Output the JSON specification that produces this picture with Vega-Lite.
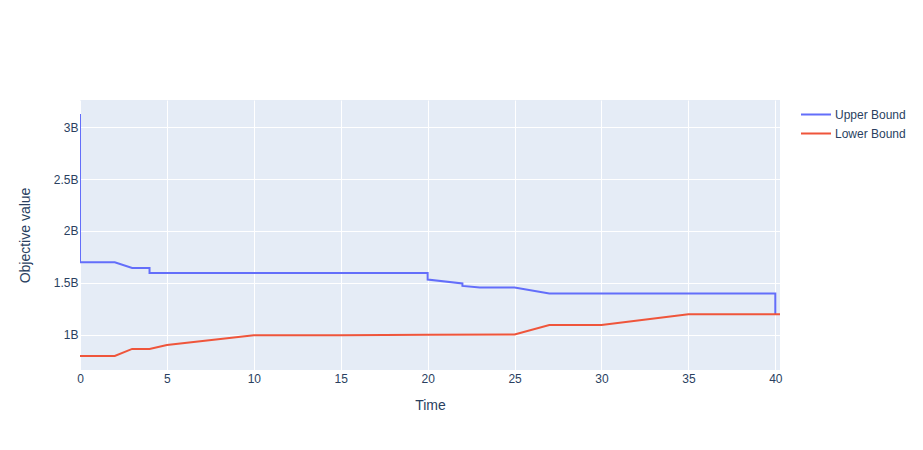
{
  "$schema": "https://vega.github.io/schema/vega-lite/v6.json",
  "autosize": "none",
  "width": 700,
  "height": 270,
  "padding": {"left": 80, "top": 100, "right": 143, "bottom": 80},
  "background": "white",
  "config": {
    "font": "Liberation Sans",
    "view": {"fill": "#E5ECF6", "stroke": null},
    "axis": {
      "domain": false,
      "ticks": false,
      "gridColor": "white",
      "gridWidth": 1,
      "labelFont": "Liberation Sans",
      "labelFontSize": 12,
      "labelColor": "#2a3f5f",
      "titleFont": "Liberation Sans",
      "titleFontSize": 14,
      "titleFontWeight": "normal",
      "titleColor": "#2a3f5f"
    },
    "legend": {
      "labelFont": "Liberation Sans",
      "labelFontSize": 12,
      "labelColor": "#2a3f5f"
    }
  },
  "data": {
    "values": [
      {"series": "Upper Bound", "i": 0, "time": 0, "value": 3125000000},
      {"series": "Upper Bound", "i": 1, "time": 0, "value": 1700000000},
      {"series": "Upper Bound", "i": 2, "time": 2, "value": 1700000000},
      {"series": "Upper Bound", "i": 3, "time": 3, "value": 1645000000},
      {"series": "Upper Bound", "i": 4, "time": 4, "value": 1645000000},
      {"series": "Upper Bound", "i": 5, "time": 4, "value": 1597000000},
      {"series": "Upper Bound", "i": 6, "time": 20, "value": 1597000000},
      {"series": "Upper Bound", "i": 7, "time": 20, "value": 1533000000},
      {"series": "Upper Bound", "i": 8, "time": 22, "value": 1495000000},
      {"series": "Upper Bound", "i": 9, "time": 22, "value": 1472000000},
      {"series": "Upper Bound", "i": 10, "time": 23, "value": 1457000000},
      {"series": "Upper Bound", "i": 11, "time": 25, "value": 1457000000},
      {"series": "Upper Bound", "i": 12, "time": 27, "value": 1398000000},
      {"series": "Upper Bound", "i": 13, "time": 40, "value": 1398000000},
      {"series": "Upper Bound", "i": 14, "time": 40, "value": 1200000000},
      {"series": "Lower Bound", "i": 0, "time": 0, "value": 798000000},
      {"series": "Lower Bound", "i": 1, "time": 2, "value": 798000000},
      {"series": "Lower Bound", "i": 2, "time": 3, "value": 866000000},
      {"series": "Lower Bound", "i": 3, "time": 4, "value": 866000000},
      {"series": "Lower Bound", "i": 4, "time": 5, "value": 903000000},
      {"series": "Lower Bound", "i": 5, "time": 10, "value": 998000000},
      {"series": "Lower Bound", "i": 6, "time": 15, "value": 998000000},
      {"series": "Lower Bound", "i": 7, "time": 20, "value": 1002000000},
      {"series": "Lower Bound", "i": 8, "time": 25, "value": 1004000000},
      {"series": "Lower Bound", "i": 9, "time": 27, "value": 1095000000},
      {"series": "Lower Bound", "i": 10, "time": 30, "value": 1095000000},
      {"series": "Lower Bound", "i": 11, "time": 35, "value": 1199000000},
      {"series": "Lower Bound", "i": 12, "time": 40.27, "value": 1199000000}
    ]
  },
  "mark": {"type": "line", "strokeWidth": 2, "clip": true},
  "encoding": {
    "x": {
      "field": "time",
      "type": "quantitative",
      "scale": {"domain": [0, 40.27], "nice": false, "zero": false},
      "axis": {
        "title": "Time",
        "values": [0, 5, 10, 15, 20, 25, 30, 35, 40],
        "labelFlush": false,
        "labelBound": false,
        "labelOverlap": false,
        "labelPadding": 3,
        "titleX": 350,
        "titleY": 35,
        "titleBaseline": "middle",
        "titleAlign": "center"
      }
    },
    "y": {
      "field": "value",
      "type": "quantitative",
      "scale": {"domain": [663000000, 3260000000], "nice": false, "zero": false},
      "axis": {
        "title": "Objective value",
        "values": [1000000000, 1500000000, 2000000000, 2500000000, 3000000000],
        "labelExpr": "datum.value / 1e9 + 'B'",
        "labelFlush": false,
        "labelOverlap": false,
        "labelPadding": 2,
        "titleX": -55,
        "titleY": 135,
        "titleAngle": -90,
        "titleBaseline": "middle",
        "titleAlign": "center"
      }
    },
    "color": {
      "field": "series",
      "type": "nominal",
      "scale": {"domain": ["Upper Bound", "Lower Bound"], "range": ["#636efa", "#EF553B"]},
      "legend": {
        "title": null,
        "orient": "none",
        "legendX": 720,
        "legendY": 5,
        "symbolType": "stroke",
        "symbolSize": 900,
        "symbolStrokeWidth": 2,
        "clipHeight": 19,
        "rowPadding": 0,
        "labelOffset": 3
      }
    },
    "order": {"field": "i", "type": "quantitative"}
  }
}
